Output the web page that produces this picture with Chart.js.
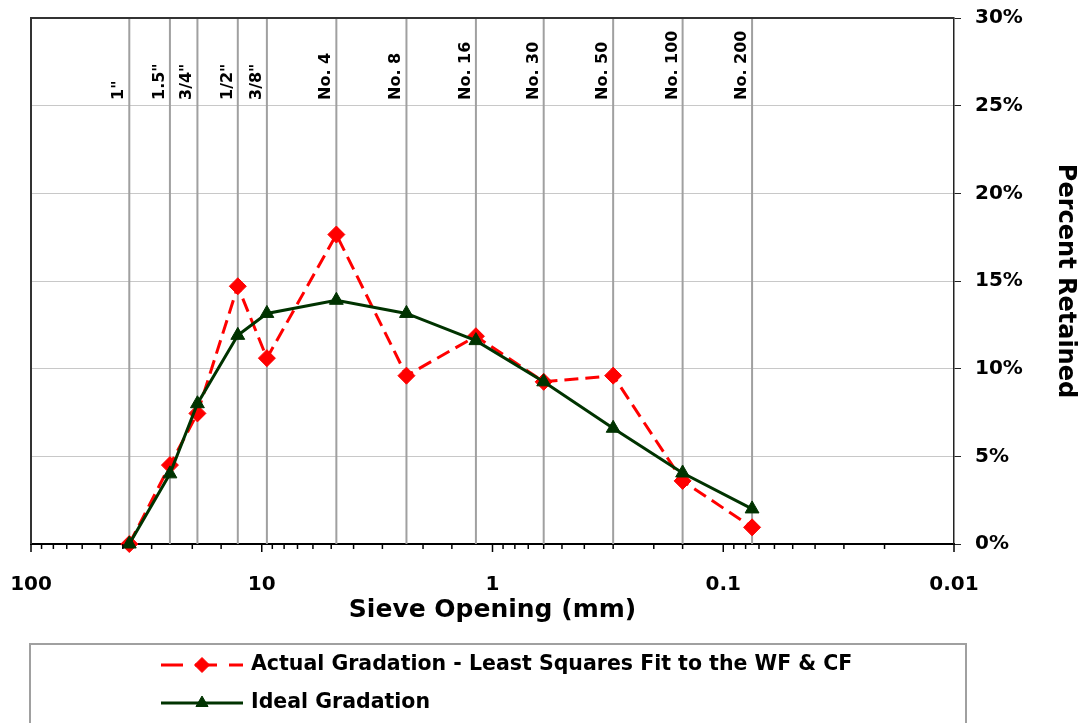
<!DOCTYPE html>
<html>
<head>
<meta charset="utf-8">
<script src="https://cdn.jsdelivr.net/npm/chart.js@4.4.1/dist/chart.umd.min.js"></script>
<style>
  html, body { margin: 0; padding: 0; background: #fff; }
  #wrap { width: 1084px; height: 723px; }
</style>
</head>
<body>
<div id="wrap"><canvas id="gradation-chart" width="1084" height="723"></canvas></div>
<script>
'use strict';

// sieve openings (mm) and the names printed above each sieve line
const sieveSizes = [37.5, 25, 19, 12.7, 9.5, 4.75, 2.36, 1.18, 0.6, 0.3, 0.15, 0.075];
const sieveNames = ['1"', '1.5"', '3/4"', '1/2"', '3/8"', 'No. 4', 'No. 8', 'No. 16', 'No. 30', 'No. 50', 'No. 100', 'No. 200'];

// percent retained on each sieve
const actualRetained = [0, 4.5, 7.45, 14.7, 10.6, 17.65, 9.6, 11.85, 9.25, 9.6, 3.6, 0.95];
const idealRetained = [0, 4.0, 8.0, 11.9, 13.15, 13.9, 13.15, 11.6, 9.25, 6.6, 4.05, 2.0];

const xTickLabels = [100, 10, 1, 0.1, 0.01];
const seriesNames = ['Actual Gradation - Least Squares Fit to the WF & CF', 'Ideal Gradation'];

const FONT = 'DejaVu Sans';
Chart.defaults.font.family = FONT;
Chart.defaults.color = '#000';

const toPoints = (vals) => sieveSizes.map((s, i) => ({x: s, y: vals[i]}));
const majorLabel = (v) => xTickLabels.find((t) => Math.abs(Math.log10(t) - Math.log10(v)) < 1e-9);

const actualStyle = {
  borderColor: '#ff0000', borderWidth: 3, borderDash: [14, 7],
  pointStyle: 'rectRot', pointRadius: 8.5, pointBorderWidth: 1,
  pointBackgroundColor: '#ff0000', pointBorderColor: '#ff0000'
};
const idealStyle = {
  borderColor: '#003300', borderWidth: 3,
  pointStyle: 'triangle', pointRadius: 8, pointBorderWidth: 1,
  pointBackgroundColor: '#003300', pointBorderColor: '#003300'
};

// sieve lines, labels, frame, minor ticks and the boxed legend
const sievePlugin = {
  id: 'sieves',
  beforeDatasetsDraw(chart) {
    const {ctx, chartArea: a, scales: {x}} = chart;
    ctx.save();
    ctx.strokeStyle = '#a0a0a0';
    ctx.lineWidth = 2;
    sieveSizes.forEach((s, i) => {
      const px = x.getPixelForValue(s);
      ctx.beginPath();
      ctx.moveTo(px, a.top);
      ctx.lineTo(px, a.bottom);
      ctx.stroke();
      ctx.save();
      ctx.translate(px - 6, 100);
      ctx.rotate(-Math.PI / 2);
      ctx.font = 'bold 16px ' + FONT;
      ctx.fillStyle = '#000';
      ctx.textAlign = 'left';
      ctx.textBaseline = 'alphabetic';
      ctx.fillText(sieveNames[i], 0, 0);
      ctx.restore();
    });
    ctx.strokeStyle = '#333';
    ctx.lineWidth = 2;
    ctx.beginPath();
    ctx.moveTo(a.left, a.bottom);
    ctx.lineTo(a.left, a.top);
    ctx.lineTo(a.right, a.top);
    ctx.stroke();
    ctx.restore();
  },
  afterDraw(chart) {
    const {ctx, chartArea: a, scales: {x}} = chart;
    ctx.save();
    // tick marks under the log axis
    ctx.strokeStyle = '#000';
    ctx.lineWidth = 1.5;
    x.ticks.forEach((t) => {
      const px = x.getPixelForValue(t.value);
      ctx.beginPath();
      ctx.moveTo(px, a.bottom);
      ctx.lineTo(px, a.bottom + (majorLabel(t.value) ? 8 : 5));
      ctx.stroke();
    });
    // legend box
    ctx.strokeStyle = '#a0a0a0';
    ctx.lineWidth = 2;
    ctx.strokeRect(30, 644, 936, 100);
    const rows = [[665, actualStyle], [703, idealStyle]];
    rows.forEach(([y, st], i) => {
      ctx.save();
      ctx.strokeStyle = st.borderColor;
      ctx.lineWidth = 3;
      ctx.setLineDash(st.borderDash ? [22, 12] : []);
      ctx.beginPath();
      ctx.moveTo(161, y);
      ctx.lineTo(243, y);
      ctx.stroke();
      ctx.restore();
      ctx.fillStyle = st.pointBackgroundColor;
      ctx.strokeStyle = st.pointBorderColor;
      ctx.lineWidth = 1;
      Chart.helpers.drawPoint(ctx, {pointStyle: st.pointStyle, radius: st.pointRadius - 1, borderWidth: 1}, 202, y);
      ctx.font = 'bold 20.5px ' + FONT;
      ctx.fillStyle = '#000';
      ctx.textAlign = 'left';
      ctx.textBaseline = 'middle';
      ctx.fillText(seriesNames[i], 251, y);
    });
    ctx.restore();
  }
};

new Chart(document.getElementById('gradation-chart').getContext('2d'), {
  type: 'line',
  data: {
    datasets: [
      Object.assign({label: seriesNames[0], data: toPoints(actualRetained), order: 1, clip: false}, actualStyle),
      Object.assign({label: seriesNames[1], data: toPoints(idealRetained), order: 0, clip: false}, idealStyle)
    ]
  },
  options: {
    responsive: false,
    animation: false,
    layout: {padding: {left: 31, top: 18, right: 0, bottom: 94}},
    plugins: {legend: {display: false}, tooltip: {enabled: false}},
    scales: {
      x: {
        type: 'logarithmic',
        position: 'bottom',
        reverse: true,
        min: 0.01,
        max: 100,
        grid: {display: false},
        border: {display: true, color: '#000', width: 2},
        ticks: {
          autoSkip: false, maxRotation: 0, minRotation: 0, padding: 21,
          font: {size: 20, weight: 'bold'}, color: '#000',
          callback: (v) => majorLabel(v) ? String(majorLabel(v)) : ''
        },
        title: {display: true, text: 'Sieve Opening (mm)', font: {size: 25, weight: 'bold'}, color: '#000', padding: {top: 4, bottom: 4}},
        afterFit: (scale) => { scale.height = 85; scale.paddingLeft = 0; scale.paddingRight = 0; }
      },
      y: {
        type: 'linear',
        position: 'right',
        min: 0,
        max: 30,
        grid: {color: '#c8c8c8', lineWidth: 1, drawTicks: true, tickLength: 7, tickColor: '#222'},
        border: {display: true, color: '#222', width: 1.5},
        ticks: {
          stepSize: 5, padding: 14,
          font: {size: 20, weight: 'bold'}, color: '#000',
          callback: (v) => v + '%'
        },
        title: {display: true, text: 'Percent Retained', font: {size: 24, weight: 'bold'}, color: '#000', padding: {top: 4, bottom: 4}},
        afterFit: (scale) => { scale.width = 130; scale.paddingTop = 0; scale.paddingBottom = 0; }
      }
    }
  },
  plugins: [sievePlugin]
});
</script>
</body>
</html>
